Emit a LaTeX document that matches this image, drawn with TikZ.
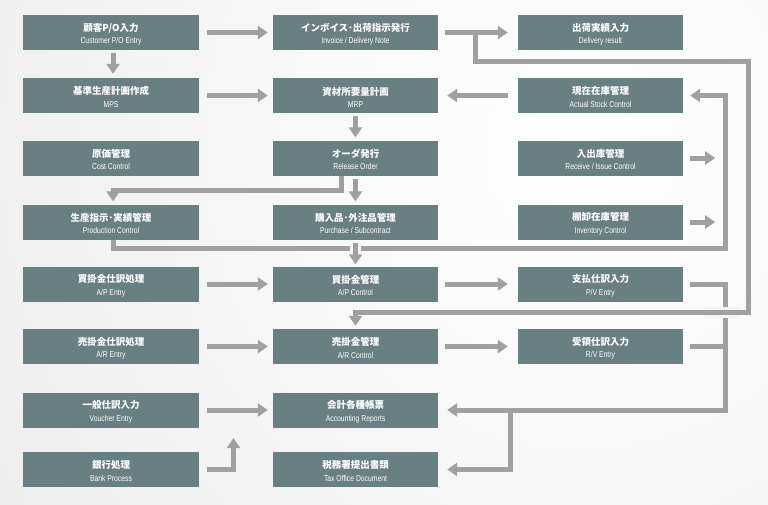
\documentclass[tikz,border=0pt]{standalone}
\usepackage{fontspec}
\newfontfamily\jpf{Noto Sans CJK JP}
\newfontfamily\enf{Liberation Sans}[FakeStretch=0.8]
\usetikzlibrary{arrows.meta}
\definecolor{boxc}{RGB}{104,128,130}
\definecolor{arrc}{RGB}{160,160,160}
\definecolor{bgc}{RGB}{244,244,244}
\definecolor{bgo}{RGB}{230,230,230}
\newcommand\jpt[1]{{\jpf\bfseries\fontsize{9.5}{12}\selectfont\rule{0pt}{11.5pt}#1}}
\newcommand\ent[1]{{\enf\fontsize{8.5}{12.5}\selectfont #1}}
\begin{document}
\begin{tikzpicture}[x=1pt,y=-1pt,
  box/.style={fill=boxc, text=white, minimum height=35pt, inner sep=0pt, align=center, font=\fontsize{8.5}{12.5}\selectfont},
  lbox/.style={box, minimum width=176pt},
  mbox/.style={box, minimum width=165pt},
  arr/.style={draw=arrc, line width=5pt, -{Triangle[width=13pt,length=10pt]}},
  ln/.style={draw=arrc, line width=5pt},
  gapc/.style={draw=bgc, line width=11pt}]
\begin{scope}
\clip (0,0) rectangle (768,504);
\fill[bgo] (0,0) rectangle (768,504);
\shade[inner color=white, outer color=bgo] (580,150) circle (1000pt);
\end{scope}
\useasboundingbox (0,0) rectangle (768,504);

% left column
\node[lbox] (cpo) at (111,32.5) {\jpt{顧客P/O入力}\\\ent{Customer P/O Entry}};
\node[lbox] (mps) at (111,95.5) {\jpt{基準生産計画作成}\\\ent{MPS}};
\node[lbox] (cost) at (111,158) {\jpt{原価管理}\\\ent{Cost Control}};
\node[lbox] (prod) at (111,222) {\jpt{生産指示･実績管理}\\\ent{Production Control}};
\node[lbox] (ape) at (111,284) {\jpt{買掛金仕訳処理}\\\ent{A/P Entry}};
\node[lbox] (are) at (111,346.5) {\jpt{売掛金仕訳処理}\\\ent{A/R Entry}};
\node[lbox] (vou) at (111,410) {\jpt{一般仕訳入力}\\\ent{Voucher Entry}};
\node[lbox] (bank) at (111,469.5) {\jpt{銀行処理}\\\ent{Bank Process}};
% middle column
\node[mbox] (inv) at (355.5,32.5) {\jpt{インボイス･出荷指示発行}\\\ent{Invoice / Delivery Note}};
\node[mbox] (mrp) at (355.5,95.5) {\jpt{資材所要量計画}\\\ent{MRP}};
\node[mbox] (rel) at (355.5,158) {\jpt{オーダ発行}\\\ent{Release Order}};
\node[mbox] (pur) at (355.5,222) {\jpt{購入品･外注品管理}\\\ent{Purchase / Subcontract}};
\node[mbox] (apc) at (355.5,284) {\jpt{買掛金管理}\\\ent{A/P Control}};
\node[mbox] (arc) at (355.5,346.5) {\jpt{売掛金管理}\\\ent{A/R Control}};
\node[mbox] (acc) at (355.5,410) {\jpt{会計各種帳票}\\\ent{Accounting Reports}};
\node[mbox] (tax) at (355.5,469.5) {\jpt{税務署提出書類}\\\ent{Tax Office Document}};
% right column
\node[mbox] (del) at (600.5,32.5) {\jpt{出荷実績入力}\\\ent{Delivery result}};
\node[mbox] (asc) at (600.5,95.5) {\jpt{現在在庫管理}\\\ent{Actual Stock Control}};
\node[mbox] (ric) at (600.5,158) {\jpt{入出庫管理}\\\ent{Receive / Issue Control}};
\node[mbox] (ivc) at (600.5,222) {\jpt{棚卸在庫管理}\\\ent{Inventory Control}};
\node[mbox] (pve) at (600.5,284) {\jpt{支払仕訳入力}\\\ent{P/V Entry}};
\node[mbox] (rve) at (600.5,346.5) {\jpt{受領仕訳入力}\\\ent{R/V Entry}};

% helper coordinates
\coordinate (j1) at (475,32.5);
\coordinate (r1) at (748,61);
\coordinate (r2) at (748,312);
\coordinate (r3) at (725,248);
\coordinate (r4) at (341,190);
\coordinate (r5) at (725,410);
\coordinate (j2) at (510,410);
\coordinate (bup) at (233.5,438);

% left to middle
\draw[arr] ([xshift=8pt]cpo.east) -- ([xshift=-5pt]inv.west);
\draw[arr] ([xshift=8pt]mps.east) -- ([xshift=-5pt]mrp.west);
\draw[arr] ([xshift=8pt]ape.east) -- ([xshift=-5pt]apc.west);
\draw[arr] ([xshift=8pt]are.east) -- ([xshift=-5pt]arc.west);
\draw[arr] ([xshift=8pt]vou.east) -- ([xshift=-5pt]acc.west);
\draw[arr] ([xshift=8pt]bank.east) -| (bup);
\draw[arr] ([xshift=2pt,yshift=-3pt]cpo.south) -- ([xshift=2pt,yshift=4pt]mps.north);

% middle to right
\draw[arr] ([xshift=7pt]inv.east) -- ([xshift=-10pt]del.west);
\draw[arr] ([xshift=-10pt]asc.west) -- ([xshift=9pt]mrp.east);
\draw[arr] ([xshift=7pt]apc.east) -- ([xshift=-10pt]pve.west);
\draw[arr] ([xshift=7pt]arc.east) -- ([xshift=-10pt]rve.west);

% middle column verticals
\draw[arr] ([yshift=-3pt]mrp.south) -- ([yshift=3pt]rel.north);
\draw[arr] ([yshift=-3pt]rel.south) -- ([yshift=3pt]pur.north);
\draw[arr] ([xshift=-14.5pt]rel.south) -- (r4) -| ([xshift=2pt,yshift=3pt]prod.north);

% stock loop
\draw[arr] ([xshift=2pt]prod.south) |- (r3) |- ([xshift=7pt]asc.east);
\draw[arr] ([xshift=7pt]ric.east) -- ([xshift=32pt]ric.east);
\draw[arr] ([xshift=7pt]ivc.east) -- ([xshift=32pt]ivc.east);
\draw[gapc] ([yshift=-2pt]pur.south) -- ([yshift=-18pt]pur.south);
\draw[arr] ([yshift=-3pt]pur.south) -- ([yshift=2pt]apc.north);

% accounting loop
\draw[arr] ([xshift=7pt]pve.east) -| (r5) -- ([xshift=9pt]acc.east);
\draw[ln] ([xshift=7pt]rve.east) -| (r5);
\draw[arr] (j2) |- ([xshift=9pt]tax.east);

% invoice branch to A/R control
\draw[gapc] (705,312) -- (740,312);
\draw[arr] (j1) |- (r1) -- (r2) -| ([yshift=3pt]arc.north);
\end{tikzpicture}
\end{document}
